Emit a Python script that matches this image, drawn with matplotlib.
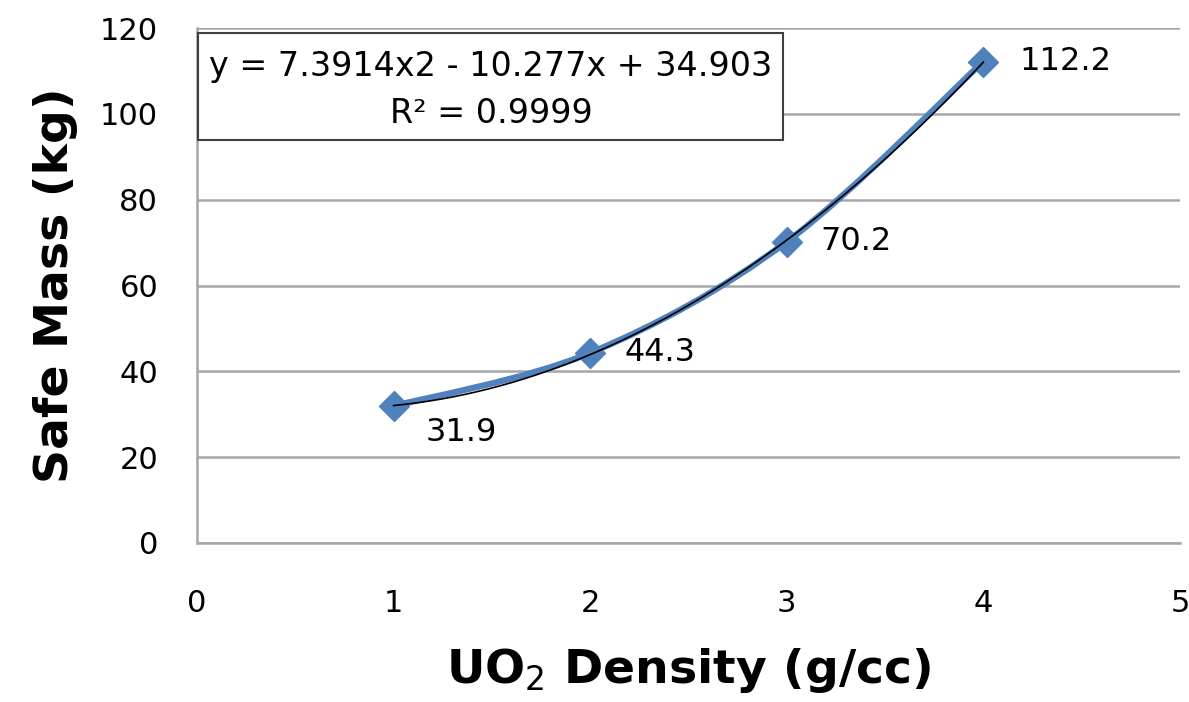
import numpy as np
import matplotlib
matplotlib.use('Agg')
import matplotlib.pyplot as plt
from matplotlib.path import Path
from matplotlib.patches import PathPatch, Rectangle

# data
density = [1, 2, 3, 4]
safe_mass = [31.9, 44.3, 70.2, 112.2]
point_labels = ['31.9', '44.3', '70.2', '112.2']
eq_text = 'y = 7.3914x2 - 10.277x + 34.903\nR² = 0.9999'

blue = '#4F81BD'
grid_col = '#A6A6A6'

plt.rcParams['font.family'] = ['DejaVu Sans']

fig = plt.figure(figsize=(11.89, 7.02), dpi=100)
ax = fig.add_axes([0.1657, 0.2265, 0.8267, 0.7335])

ax.set_xlim(0, 5)
ax.set_ylim(0, 120)
ax.set_xticks(range(0, 6))
ax.set_yticks(range(0, 121, 20))
ax.grid(axis='y', color=grid_col, linewidth=1.8)
ax.set_axisbelow(True)
for side in ['top', 'right']:
    ax.spines[side].set_visible(False)
for side in ['left', 'bottom']:
    ax.spines[side].set_color(grid_col)
    ax.spines[side].set_linewidth(1.8)
ax.tick_params(length=0, labelsize=22)
ax.tick_params(axis='y', pad=28)
ax.tick_params(axis='x', pad=33)

# smoothed series line (catmull-rom -> bezier, like Excel's smooth line)
xs = np.array(density, float)
ys = np.array(safe_mass, float)
verts = [(xs[0], ys[0])]
codes = [Path.MOVETO]
for i in range(len(xs) - 1):
    p0 = i - 1 if i > 0 else i
    p3 = i + 2 if i + 2 < len(xs) else i + 1
    c1 = (xs[i] + (xs[i + 1] - xs[p0]) / 6, ys[i] + (ys[i + 1] - ys[p0]) / 6)
    c2 = (xs[i + 1] - (xs[p3] - xs[i]) / 6, ys[i + 1] - (ys[p3] - ys[i]) / 6)
    verts += [c1, c2, (xs[i + 1], ys[i + 1])]
    codes += [Path.CURVE4] * 3
ax.add_patch(PathPatch(Path(verts, codes), facecolor='none', edgecolor=blue,
                       linewidth=4.5, zorder=3))
ax.plot(density, safe_mass, linestyle='none', marker='D', markersize=15,
        color=blue, zorder=4)

# polynomial trendline
coef = np.polyfit(xs, ys, 2)
tx = np.linspace(xs.min(), xs.max(), 200)
ax.plot(tx, np.polyval(coef, tx), color='black', linewidth=1.2, zorder=5)

# data labels
offsets = [(32, -26), (34, 0), (34, 0), (36, 0)]
for x, y, lab, off in zip(density, safe_mass, point_labels, offsets):
    ax.annotate(lab, (x, y), xytext=off, textcoords='offset pixels',
                fontsize=23, ha='left', va='center')

# equation box
ax.add_patch(Rectangle((0.0015, 0.7825), 0.595, 0.2075, transform=ax.transAxes,
                       facecolor='white', edgecolor='#404040', linewidth=1.5,
                       zorder=6, clip_on=False))
ax.text(0.299, 0.88, eq_text, transform=ax.transAxes, fontsize=24,
        ha='center', va='center', multialignment='center', linespacing=1.55,
        zorder=7)

ax.set_ylabel('Safe Mass (kg)', fontsize=34, fontweight='bold', labelpad=16)
ax.set_xlabel('UO$_2$ Density (g/cc)', fontsize=34, fontweight='bold', labelpad=20)

fig.savefig('out.png', dpi=100)
